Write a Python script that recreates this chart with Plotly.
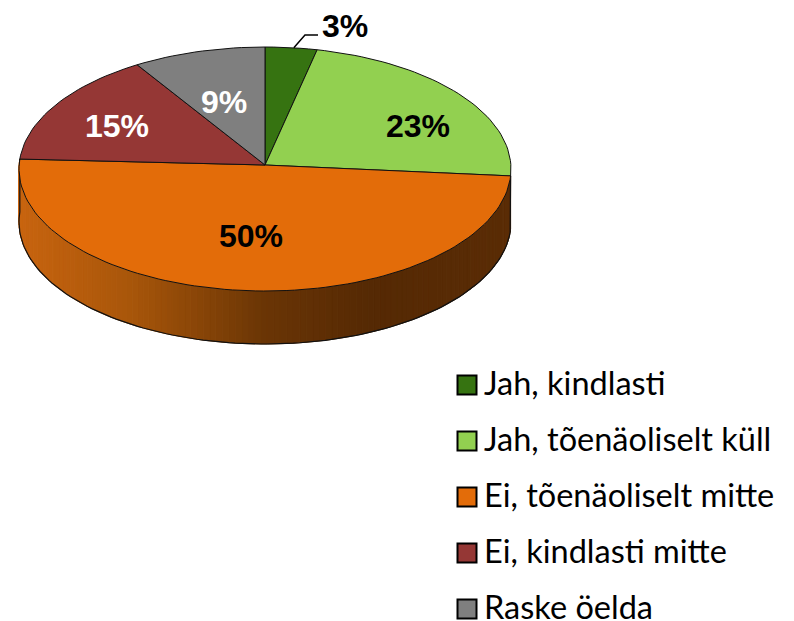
import math
import plotly.graph_objects as go

categories = ["Jah, kindlasti", "Jah, tõenäoliselt küll", "Ei, tõenäoliselt mitte", "Ei, kindlasti mitte", "Raske öelda"]
values = [3.4, 22.5, 50.4, 15.0, 8.7]
colors = ["#367311", "#92D050", "#E36C09", "#953735", "#7F7F7F"]
label_text = ["3%", "23%", "50%", "15%", "9%"]
label_colors = ["black", "black", "black", "white", "white"]
label_x = [345, 418, 251, 117, 224]
label_y = [29, 129, 239, 129, 105]

CX, CY, RX, RY, DEPTH = 265, 169, 246, 122, 53
AX, AY = 265, 165
W, H = 794, 621


def pt(deg, dy=0):
    a = math.radians(deg)
    return CX + RX * math.sin(a), CY - RY * math.cos(a) + dy


def side_color(x):
    stops = [(19, (200, 100, 15)), (130, (168, 86, 10)), (265, (106, 53, 5)), (370, (85, 41, 4)), (511, (90, 44, 5))]
    for (x0, c0), (x1, c1) in zip(stops, stops[1:]):
        if x <= x1:
            f = max(0, (x - x0) / (x1 - x0))
            return "rgb(%d,%d,%d)" % tuple(round(a + (b - a) * f) for a, b in zip(c0, c1))
    return "rgb(90,44,5)"


fig = go.Figure()
total = sum(values)
bounds = [0]
for v in values:
    bounds.append(bounds[-1] + v / total * 360)

# side wall of the orange slice, drawn as gradient strips
s0, s1 = bounds[2], bounds[3]
n = 120
for i in range(n):
    t0 = s0 + (s1 - s0) * i / n
    t1 = s0 + (s1 - s0) * (i + 1) / n
    p0, p1 = pt(t0), pt(t1)
    q0, q1 = pt(t0, DEPTH), pt(t1, DEPTH)
    col = side_color((p0[0] + p1[0]) / 2)
    fig.add_trace(go.Scatter(x=[p0[0], p1[0], q1[0], q0[0], p0[0]], y=[p0[1], p1[1], q1[1], q0[1], p0[1]],
                             mode="lines", fill="toself", fillcolor=col, line=dict(color=col, width=1), hoverinfo="skip"))

# outline of the wall
m = 120
ts = [s0 + (s1 - s0) * i / m for i in range(m + 1)]
bx = [pt(t, DEPTH)[0] for t in ts]
by = [pt(t, DEPTH)[1] for t in ts]
fig.add_trace(go.Scatter(x=[pt(s0)[0]] + bx + [pt(s1)[0]], y=[pt(s0)[1]] + by + [pt(s1)[1]],
                         mode="lines", line=dict(color="#111111", width=1.2), hoverinfo="skip"))

# top face slices
for i, col in enumerate(colors):
    k = max(2, int(values[i] * 2))
    arc = [pt(bounds[i] + (bounds[i + 1] - bounds[i]) * j / k) for j in range(k + 1)]
    xs = [AX] + [p[0] for p in arc] + [AX]
    ys = [AY] + [p[1] for p in arc] + [AY]
    fig.add_trace(go.Scatter(x=xs, y=ys, mode="lines", fill="toself", fillcolor=col,
                             line=dict(color="#111111", width=1), name=categories[i], hoverinfo="skip"))

# leader line of the 3% label
lead = pt(bounds[0] + (bounds[1] - bounds[0]) * 0.55)
fig.add_trace(go.Scatter(x=[lead[0], 305, 318], y=[lead[1], 35, 35], mode="lines",
                         line=dict(color="black", width=1.5), hoverinfo="skip"))

# value labels
fig.add_trace(go.Scatter(x=label_x, y=label_y, mode="text", text=label_text,
                         textposition="middle center", hoverinfo="skip",
                         textfont=dict(family="Liberation Sans", size=32, color=label_colors, weight="bold")))

# legend
legend_y = [385, 441, 497, 553, 609]
legend_text_y = [387, 443, 499, 555, 611]
fig.add_trace(go.Scatter(x=[467] * 5, y=legend_y, mode="markers", hoverinfo="skip",
                         marker=dict(symbol="square", size=19, color=colors, line=dict(color="black", width=2))))
fig.add_trace(go.Scatter(x=[484] * 5, y=legend_text_y, mode="text", text=categories, textposition="middle right",
                         hoverinfo="skip", cliponaxis=False, textfont=dict(family="Lato", size=32.5, color="black")))

fig.update_layout(width=W, height=H, margin=dict(l=0, r=0, t=0, b=0), showlegend=False,
                  paper_bgcolor="white", plot_bgcolor="white",
                  xaxis=dict(range=[0, W], visible=False, fixedrange=True),
                  yaxis=dict(range=[H, 0], visible=False, fixedrange=True))
fig.write_html("out.html", config={"displayModeBar": False},
               post_script="document.body.style.margin='0';document.body.style.overflow='hidden';"
                           "document.body.style.fontVariantLigatures='none';")
